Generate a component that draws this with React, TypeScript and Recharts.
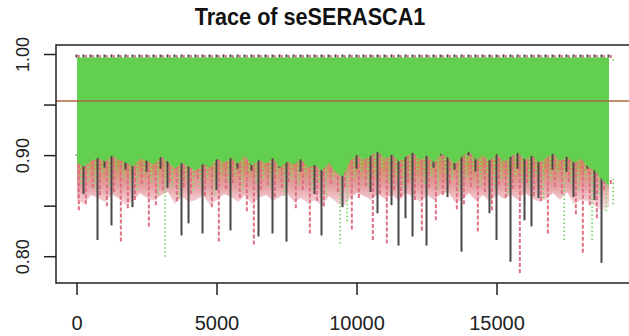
import {
  ComposedChart,
  Area,
  Bar,
  XAxis,
  YAxis,
  ReferenceLine,
  ReferenceArea,
} from "recharts";

// trace summarised in bins of 250 iterations (0 .. 19000)
const BIN = 250;

// lowest value reached by each chain inside a bin
const blackLow = [
  0.9, 0.862, 0.9, 0.8165, 0.888, 0.831, 0.9, 0.886, 0.849, 0.9, 0.884,
  0.9, 0.887, 0.868, 0.9, 0.821, 0.833, 0.9, 0.823, 0.889, 0.866, 0.9,
  0.826, 0.887, 0.9, 0.885, 0.82, 0.9, 0.823, 0.888, 0.815, 0.9, 0.884,
  0.9, 0.862, 0.821, 0.9, 0.886, 0.849, 0.9, 0.887, 0.9, 0.864, 0.843,
  0.9, 0.851, 0.811, 0.838, 0.82, 0.9, 0.811, 0.888, 0.9, 0.859, 0.886,
  0.805, 0.9, 0.884, 0.9, 0.843, 0.8165, 0.9, 0.795, 0.887, 0.836, 0.83,
  0.858, 0.9, 0.886, 0.9, 0.884, 0.859, 0.9, 0.887, 0.856, 0.794, 0.885,
];

const redLow = [
  0.846, 0.852, 0.868, 0.861, 0.85, 0.864, 0.815, 0.848, 0.856, 0.872, 0.83,
  0.851, 0.866, 0.874, 0.855, 0.869, 0.862, 0.877, 0.86, 0.849, 0.815, 0.867,
  0.873, 0.858, 0.845, 0.812, 0.866, 0.871, 0.859, 0.868, 0.874, 0.848, 0.866,
  0.823, 0.855, 0.85, 0.872, 0.864, 0.869, 0.827, 0.858, 0.87, 0.8165, 0.862,
  0.813, 0.866, 0.859, 0.873, 0.856, 0.826, 0.868, 0.836, 0.861, 0.872, 0.847,
  0.852, 0.869, 0.825, 0.864, 0.846, 0.871, 0.858, 0.867, 0.784, 0.873, 0.86,
  0.855, 0.823, 0.869, 0.862, 0.874, 0.842, 0.804, 0.851, 0.838, 0.866, 0.872,
];

const greenLow = [
  0.872, 0.876, 0.868, 0.884, 0.87, 0.887, 0.879, 0.871, 0.866, 0.883, 0.874,
  0.862, 0.8, 0.869, 0.858, 0.877, 0.865, 0.871, 0.879, 0.861, 0.884, 0.874,
  0.88, 0.866, 0.885, 0.873, 0.878, 0.869, 0.882, 0.86, 0.876, 0.871, 0.884,
  0.866, 0.874, 0.861, 0.877, 0.813, 0.835, 0.878, 0.885, 0.87, 0.882, 0.889,
  0.874, 0.881, 0.868, 0.879, 0.886, 0.872, 0.88, 0.867, 0.884, 0.876, 0.865,
  0.879, 0.887, 0.871, 0.883, 0.868, 0.878, 0.863, 0.881, 0.874, 0.869, 0.882,
  0.858, 0.876, 0.884, 0.8165, 0.872, 0.866, 0.879, 0.8165, 0.862, 0.845, 0.852,
];

// bottom of the solid green band
const greenBody = [
  0.893, 0.889, 0.895, 0.898, 0.894, 0.9, 0.896, 0.893, 0.889, 0.897, 0.895,
  0.891, 0.899, 0.894, 0.887, 0.893, 0.889, 0.885, 0.892, 0.888, 0.897, 0.893,
  0.898, 0.892, 0.9, 0.89, 0.896, 0.892, 0.898, 0.888, 0.894, 0.891, 0.897,
  0.888, 0.891, 0.885, 0.893, 0.883, 0.879, 0.895, 0.901, 0.896, 0.9, 0.904,
  0.897, 0.901, 0.894, 0.899, 0.903, 0.896, 0.9, 0.893, 0.902, 0.898, 0.892,
  0.899, 0.904, 0.896, 0.9, 0.895, 0.902, 0.894, 0.899, 0.903, 0.896, 0.9,
  0.893, 0.898, 0.902, 0.895, 0.899, 0.893, 0.897, 0.889, 0.885, 0.876, 0.87,
];

// bottom of the mixed red / green zone under the solid band
const fringeLow = [
  0.856, 0.852, 0.861, 0.858, 0.854, 0.862, 0.857, 0.851, 0.855, 0.863, 0.858,
  0.855, 0.861, 0.864, 0.852, 0.859, 0.854, 0.856, 0.861, 0.851, 0.856, 0.862,
  0.859, 0.854, 0.861, 0.852, 0.858, 0.861, 0.855, 0.859, 0.863, 0.854, 0.858,
  0.853, 0.856, 0.85, 0.86, 0.854, 0.849, 0.858, 0.863, 0.86, 0.856, 0.862,
  0.857, 0.861, 0.855, 0.863, 0.859, 0.854, 0.861, 0.856, 0.862, 0.864, 0.854,
  0.856, 0.863, 0.855, 0.861, 0.854, 0.862, 0.857, 0.861, 0.856, 0.863, 0.858,
  0.854, 0.857, 0.863, 0.856, 0.864, 0.852, 0.856, 0.855, 0.85, 0.845, 0.85,
];

// upper edge of each chain: black, red, green
const chainMax = [1.0, 0.9995, 0.997];
const meanValue = 0.954;

const xTicks = [0, 5000, 10000, 15000];
const yTicks = [0.8, 0.85, 0.9, 0.95, 1.0];
const yLabelled = [0.8, 0.9, 1.0];

const data = blackLow.map((b, i) => ({
  iter: i * BIN,
  iterRed: i * BIN + BIN / 3,
  iterGreen: i * BIN + (2 * BIN) / 3,
  body: greenBody[i],
  black: [b, chainMax[0]],
  red: [redLow[i], chainMax[1]],
  greenTail: [greenLow[i], chainMax[2]],
  green: [greenBody[i], chainMax[2]],
  fringe: [fringeLow[i], greenBody[i] + 0.006],
}));

const FONT = "'Liberation Sans', Arial, Helvetica, sans-serif";
const X_DOMAIN: [number, number] = [-750, 19750];
const Y_DOMAIN: [number, number] = [0.774, 1.0094];

function spike(key: string, color: string, dash?: string) {
  return (props: any) => {
    const { x, y, width, height, payload } = props;
    if (height == null || isNaN(y) || !payload) return <g />;
    const [lo, hi] = payload[key];
    const px = (v: number) => y + ((hi - v) / (hi - lo)) * height;
    const cx = x + width / 2;
    const joint = Math.min(hi, payload.body + 0.008);
    return (
      <g>
        {lo < joint && (
          <line
            x1={cx}
            x2={cx}
            y1={px(lo)}
            y2={px(joint)}
            stroke={color}
            strokeWidth={2}
            strokeDasharray={dash}
          />
        )}
        <line
          x1={cx}
          x2={cx}
          y1={px(hi - 0.003)}
          y2={px(hi)}
          stroke={color}
          strokeWidth={2}
          strokeDasharray={dash}
        />
      </g>
    );
  };
}

function YTick({ x, y, payload }: any) {
  const v = payload.value;
  if (!yLabelled.some((t) => Math.abs(t - v) < 1e-9)) return null;
  const bx = x - 13;
  return (
    <text
      x={bx}
      y={y}
      transform={`rotate(-90, ${bx}, ${y})`}
      textAnchor="middle"
      fontFamily={FONT}
      fontSize={18}
      fill="#222"
    >
      {v.toFixed(2)}
    </text>
  );
}

function XTick({ x, y, payload }: any) {
  return (
    <text
      x={x}
      y={y + 33}
      textAnchor="middle"
      fontFamily={FONT}
      fontSize={20}
      fill="#222"
    >
      {payload.value}
    </text>
  );
}

export default function App() {
  return (
    <div
      style={{
        position: "fixed",
        left: 0,
        top: 0,
        width: 629,
        height: 336,
        overflow: "hidden",
        background: "#fff",
      }}
    >
      <svg width={0} height={0} style={{ position: "absolute" }}>
        <defs>
          <linearGradient id="fringeFill" x1="0" y1="0" x2="0" y2="1">
            <stop offset="0%" stopColor="#8fbf55" stopOpacity={1} />
            <stop offset="30%" stopColor="#c9925a" stopOpacity={1} />
            <stop offset="62%" stopColor="#dd7f84" stopOpacity={0.75} />
            <stop offset="100%" stopColor="#eba4b0" stopOpacity={0.3} />
          </linearGradient>
        </defs>
      </svg>
      <div
        style={{
          position: "absolute",
          left: 160,
          top: 4,
          width: 300,
          textAlign: "center",
          fontFamily: FONT,
          fontWeight: "bold",
          fontSize: 23,
          color: "#111",
          whiteSpace: "nowrap",
          transform: "scaleX(0.94)",
        }}
      >
        Trace of seSERASCA1
      </div>
      <ComposedChart
        width={640}
        height={336}
        data={data}
        margin={{ top: 45, right: 10, bottom: 0, left: 0 }}
      >
        <XAxis
          dataKey="iter"
          type="number"
          domain={X_DOMAIN}
          ticks={xTicks}
          allowDataOverflow
          axisLine={false}
          tickLine={{ stroke: "#222", strokeWidth: 1.5 }}
          tickSize={12}
          height={53}
          tick={<XTick />}
        />
        <XAxis xAxisId="r" dataKey="iterRed" type="number" domain={X_DOMAIN} allowDataOverflow hide />
        <XAxis xAxisId="g" dataKey="iterGreen" type="number" domain={X_DOMAIN} allowDataOverflow hide />
        <YAxis
          type="number"
          domain={Y_DOMAIN}
          ticks={yTicks}
          allowDataOverflow
          axisLine={false}
          tickLine={{ stroke: "#222", strokeWidth: 1.5 }}
          tickSize={12}
          width={56}
          tick={<YTick />}
        />
        <Area
          dataKey="fringe"
          type="linear"
          stroke="none"
          fill="url(#fringeFill)"
          fillOpacity={1}
          isAnimationActive={false}
          zIndex={50}
        />
        <Bar
          dataKey="black"
          barSize={2}
          fill="#444"
          shape={spike("black", "#474747")}
          isAnimationActive={false}
          zIndex={300}
        />
        <Bar
          dataKey="red"
          xAxisId="r"
          barSize={2}
          fill="#DF536B"
          shape={spike("red", "#df6f83", "4 2")}
          isAnimationActive={false}
          zIndex={301}
        />
        <Bar
          dataKey="greenTail"
          xAxisId="g"
          barSize={2}
          fill="#61D04F"
          shape={spike("greenTail", "#86d877", "1.5 2.5")}
          isAnimationActive={false}
          zIndex={302}
        />
        <Area
          dataKey="green"
          type="linear"
          stroke="none"
          fill="#63CF4F"
          fillOpacity={1}
          isAnimationActive={false}
          zIndex={350}
        />
        <ReferenceLine y={meanValue} stroke="#ad6a3e" strokeWidth={1.5} zIndex={360} />
        <ReferenceArea
          x1={X_DOMAIN[0]}
          x2={X_DOMAIN[1]}
          y1={Y_DOMAIN[0]}
          y2={Y_DOMAIN[1]}
          fill="none"
          stroke="#222"
          strokeWidth={1.5}
          zIndex={400}
        />
      </ComposedChart>
    </div>
  );
}
